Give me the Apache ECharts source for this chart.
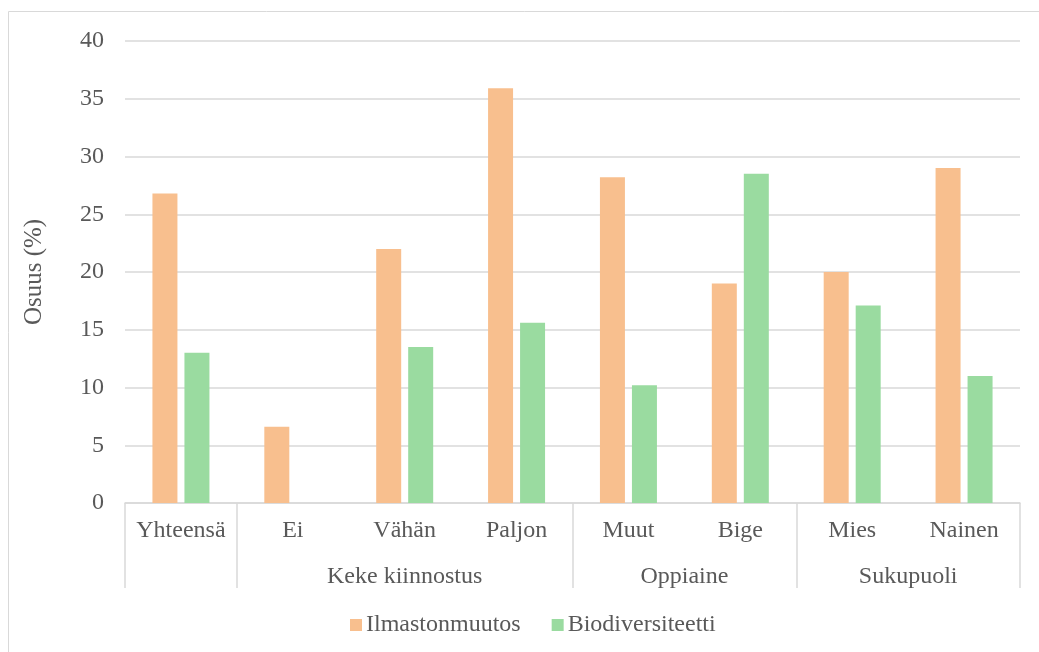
<!DOCTYPE html>
<html>
<head>
<meta charset="utf-8">
<script src="https://cdn.jsdelivr.net/npm/echarts@6/dist/echarts.min.js"></script>
<style>
	html,body{margin:0;padding:0;background:#fff;}
	#chart{width:1039px;height:652px;}
</style>
</head>
<body>
<div id="chart"></div>
<script>
	var categories = ['Yhteensä','Ei','Vähän','Paljon','Muut','Bige','Mies','Nainen'];
	var ilmasto = [26.8, 6.6, 22.0, 35.9, 28.2, 19.0, 20.0, 29.0];
	var biodiv = [13.0, 0, 13.5, 15.6, 10.2, 28.5, 17.1, 11.0];
	var groupNames = ['Keke kiinnostus','Oppiaine','Sukupuoli'];
	var groupCenters = [2.5, 5, 7];
	var groupBounds = [0, 1, 4, 6, 8];

	var txt = '#595959', line = '#d9d9d9', font = '"Liberation Serif", "Times New Roman", serif';

	var chart = echarts.init(document.getElementById('chart'));

	chart.setOption({
		animation: false,
		textStyle: {fontFamily: font},
		graphic: [{
			type: 'rect',
			shape: {x: 8.5, y: 11.5, width: 1100, height: 700},
			style: {fill: 'none', stroke: line, lineWidth: 1},
			silent: true
		}],
		grid: {left: 125, right: 19, top: 41, bottom: 149},
		legend: {
			bottom: 10,
			left: 345,
			itemWidth: 12, itemHeight: 12, itemGap: 31,
			icon: 'rect',
			textStyle: {color: txt, fontSize: 24, fontFamily: font, padding: [0, 0, 0, -1]},
			data: ['Ilmastonmuutos','Biodiversiteetti']
		},
		xAxis: [
			{
				type: 'category',
				data: categories,
				axisLine: {lineStyle: {color: line, width: 1.5}},
				axisTick: {show: false},
				axisLabel: {color: txt, fontSize: 24, fontFamily: font, margin: 16, interval: 0}
			},
			{
				type: 'value',
				min: 0, max: 8,
				position: 'bottom',
				axisLine: {show: false},
				splitLine: {show: false},
				axisTick: {
					show: true, length: 85,
					customValues: groupBounds,
					lineStyle: {color: line, width: 1.5}
				},
				axisLabel: {
					customValues: groupCenters,
					color: txt, fontSize: 24, fontFamily: font, margin: 62,
					formatter: function(v){
						var i = groupCenters.indexOf(v);
						return i >= 0 ? groupNames[i] : '';
					}
				}
			}
		],
		yAxis: {
			type: 'value',
			min: 0, max: 40, interval: 5,
			name: 'Osuus (%)',
			nameLocation: 'middle',
			nameGap: 78,
			nameTextStyle: {color: txt, fontSize: 25, fontFamily: font},
			axisLine: {show: false},
			axisTick: {show: false},
			axisLabel: {color: txt, fontSize: 24, fontFamily: font, margin: 21},
			splitLine: {lineStyle: {color: line, width: 1.5}}
		},
		series: [
			{
				name: 'Ilmastonmuutos',
				type: 'bar',
				data: ilmasto,
				barWidth: 25,
				barGap: '28%',
				itemStyle: {color: '#F8BF8E'}
			},
			{
				name: 'Biodiversiteetti',
				type: 'bar',
				data: biodiv,
				barWidth: 25,
				itemStyle: {color: '#9ADBA0'}
			}
		]
	});
</script>
</body>
</html>
